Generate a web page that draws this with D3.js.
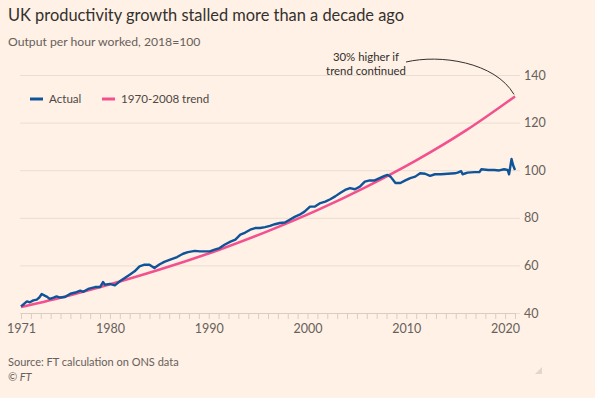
<!DOCTYPE html>
<html>
<head>
<meta charset="utf-8">
<script src="https://cdn.jsdelivr.net/npm/d3@7"></script>
<style>
  html, body { margin: 0; padding: 0; background: #fff1e5; }
  svg { display: block; }
</style>
</head>
<body>
<div id="container"></div>
<script>
// Output per hour worked, 2018=100 (decimal years)
const actualYears = [
  1971.0, 1971.3, 1971.6, 1971.9, 1972.25, 1972.6, 1972.85, 1973.1, 1973.4, 1973.65,
  1973.9, 1974.3, 1974.6, 1974.95, 1975.45, 1976.0, 1976.5, 1977.0, 1977.3, 1977.8,
  1978.5, 1979.0, 1979.3, 1979.5, 1980.0, 1980.5, 1981.0, 1981.5, 1982.0, 1982.5,
  1983.0, 1983.5, 1984.0, 1984.5, 1985.0, 1985.5, 1986.1, 1986.8, 1987.4, 1987.9,
  1988.6, 1989.1, 1989.6, 1990.1, 1990.6, 1991.1, 1991.6, 1992.2, 1992.7, 1993.2,
  1993.7, 1994.2, 1994.7, 1995.2, 1995.7, 1996.2, 1996.7, 1997.2, 1997.7, 1998.2,
  1998.7, 1999.2, 1999.7, 2000.25, 2000.75, 2001.3, 2001.8, 2002.3, 2002.8, 2003.3,
  2003.8, 2004.3, 2004.8, 2005.3, 2005.8, 2006.3, 2006.8, 2007.3, 2007.8, 2008.1,
  2008.4, 2008.9, 2009.4, 2009.9, 2010.4, 2010.9, 2011.4, 2011.9, 2012.4, 2012.9,
  2013.5, 2014.2, 2014.9, 2015.2, 2015.55, 2015.7, 2016.2, 2016.9, 2017.4, 2017.6,
  2018.3, 2018.9, 2019.4, 2019.9, 2020.25, 2020.4, 2020.65, 2020.8, 2021.0
];
const actualValues = [
  42.8, 43.8, 44.9, 44.5, 45.3, 45.6, 46.5, 48.0, 47.3, 46.8,
  45.9, 46.5, 47.0, 46.5, 46.7, 48.1, 48.6, 49.4, 48.9, 50.1,
  50.9, 50.9, 53.0, 51.9, 52.2, 51.6, 53.3, 54.7, 56.1, 57.5,
  59.6, 60.3, 60.3, 58.9, 60.4, 61.5, 62.4, 63.5, 64.9, 65.6,
  66.1, 65.9, 65.9, 65.9, 66.6, 67.3, 68.7, 70.0, 70.8, 72.9,
  73.8, 75.0, 75.7, 75.7, 76.1, 76.6, 77.3, 77.8, 78.0, 79.2,
  80.4, 81.3, 82.6, 84.7, 84.7, 86.2, 86.8, 87.8, 89.0, 90.4,
  91.7, 92.5, 92.0, 93.1, 95.2, 95.7, 95.7, 96.7, 97.6, 98.0,
  97.3, 94.6, 94.6, 95.7, 96.7, 97.3, 98.7, 98.5, 97.6, 98.3,
  98.3, 98.5, 98.7, 99.0, 99.6, 98.3, 99.0, 99.2, 99.2, 100.4,
  100.1, 100.1, 99.9, 100.4, 100.1, 98.3, 104.7, 102.2, 100.1
];

// 1970-2008 trend, extended
const trendYears = [1971, 1976, 1981, 1986, 1991, 1996, 2001, 2006, 2011, 2016, 2021];
const trendValues = [42.5, 47.5, 53.2, 59.5, 66.5, 74.4, 83.2, 93.1, 104.1, 116.6, 131.0];

const yTicks = [40, 60, 80, 100, 120, 140];
const xLabels = [1971, 1980, 1990, 2000, 2010, 2020];

const width = 595, height = 398,
fontMain = "Lato, 'Noto Sans', sans-serif",
blue = "#0f5499",
pink = "#f2508e",
textGrey = "#66605c",
gridColor = "#e9ded3";

const svg = d3.select("#container").append("svg")
  .attr("width", width)
  .attr("height", height)
  .style("background", "#fff1e5")
  .style("font-family", fontMain);

const x = d3.scaleLinear().domain([1971, 2021]).range([21, 515]);
const y = d3.scaleLinear().domain([40, 140]).range([313, 75]);

/* Titre et sous-titre */
svg.append("text")
  .attr("x", 8).attr("y", 21)
  .style("font-size", "16.4px")
  .style("fill", "#33302e")
  .text("UK productivity growth stalled more than a decade ago");

svg.append("text")
  .attr("x", 8).attr("y", 46)
  .style("font-size", "12.2px")
  .style("fill", textGrey)
  .text("Output per hour worked, 2018=100");

/* Grille et axe des valeurs */
const yAxis = svg.append("g")
  .attr("transform", "translate(520,0)")
  .call(d3.axisRight(y).tickValues(yTicks).tickSize(-500).tickPadding(4));
yAxis.select(".domain").remove();
yAxis.selectAll("line").attr("stroke", gridColor);
yAxis.selectAll("text")
  .style("font-family", fontMain)
  .style("font-size", "12.5px")
  .style("fill", textGrey);

/* Axe des années */
const xAxis = svg.append("g")
  .attr("transform", "translate(0," + y(40) + ")")
  .call(d3.axisBottom(x)
    .tickValues(d3.range(1971, 2022))
    .tickSize(6)
    .tickPadding(5)
    .tickFormat(d => xLabels.includes(d) ? d : ""));
xAxis.select(".domain").attr("stroke", "#d9cdc2");
xAxis.selectAll("line").attr("stroke", "#d9cdc2");
xAxis.selectAll("text")
  .style("font-family", fontMain)
  .style("font-size", "12.5px")
  .style("fill", textGrey);

/* Courbes */
const trendData = trendYears.map((d, i) => [d, trendValues[i]]);
const actualData = actualYears.map((d, i) => [d, actualValues[i]]);

svg.append("path")
  .datum(trendData)
  .attr("fill", "none")
  .attr("stroke", pink)
  .attr("stroke-width", 2.6)
  .attr("d", d3.line().x(d => x(d[0])).y(d => y(d[1])).curve(d3.curveMonotoneX));

svg.append("path")
  .datum(actualData)
  .attr("fill", "none")
  .attr("stroke", blue)
  .attr("stroke-width", 2.4)
  .attr("stroke-linejoin", "round")
  .attr("d", d3.line().x(d => x(d[0])).y(d => y(d[1])));

/* Légende */
const legendItems = [
  {label: "Actual", color: blue, x: 30},
  {label: "1970-2008 trend", color: pink, x: 102}
];
const legend = svg.append("g").attr("transform", "translate(0,99)");
legend.selectAll("line")
  .data(legendItems)
  .enter().append("line")
    .attr("x1", d => d.x).attr("x2", d => d.x + 13)
    .attr("y1", 0).attr("y2", 0)
    .attr("stroke", d => d.color)
    .attr("stroke-width", 3);
legend.selectAll("text")
  .data(legendItems)
  .enter().append("text")
    .attr("x", d => d.x + 19)
    .attr("y", 4.3)
    .style("font-size", "11.6px")
    .style("fill", "#4d4845")
    .text(d => d.label);

/* Annotation */
const ann = svg.append("g");
ann.append("text")
  .attr("x", 366).attr("y", 60.5)
  .style("font-size", "11.4px")
  .style("fill", "#33302e")
  .style("text-anchor", "middle")
  .text("30% higher if");
ann.append("text")
  .attr("x", 366).attr("y", 74.5)
  .style("font-size", "11.4px")
  .style("fill", "#33302e")
  .style("text-anchor", "middle")
  .text("trend continued");

const endX = x(trendYears[trendYears.length - 1]),
endY = y(trendValues[trendValues.length - 1]);
ann.append("path")
  .attr("fill", "none")
  .attr("stroke", "#33302e")
  .attr("stroke-width", 1)
  .attr("d", "M406,62 C440,54 495,62 " + (endX - 1) + "," + (endY - 2));

/* Source */
svg.append("text")
  .attr("x", 8).attr("y", 366)
  .style("font-size", "11px")
  .style("fill", textGrey)
  .text("Source: FT calculation on ONS data");
svg.append("text")
  .attr("x", 8).attr("y", 381)
  .style("font-size", "11px")
  .style("font-style", "italic")
  .style("fill", textGrey)
  .text("© FT");

/* Petit triangle en bas à droite */
svg.append("path")
  .attr("d", "M542,367 L542,374 L535,374 Z")
  .attr("fill", "#e3d6ca");
</script>
</body>
</html>
